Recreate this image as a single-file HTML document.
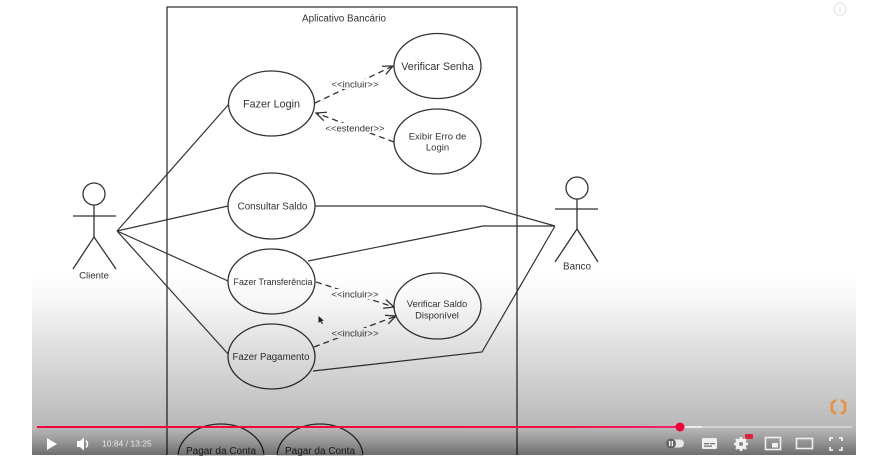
<!DOCTYPE html>
<html><head><meta charset="utf-8"><style>
html,body{margin:0;padding:0;background:#fff;width:880px;height:465px;overflow:hidden;}
svg{display:block;}
text{font-family:"Liberation Sans",Arial,sans-serif;fill:#333;}
</style></head><body>
<svg width="880" height="465" viewBox="0 0 880 465" xmlns="http://www.w3.org/2000/svg">
<defs>
<linearGradient id="ov" x1="0" y1="0" x2="0" y2="1">
<stop offset="0" stop-color="#000" stop-opacity="0"/>
<stop offset="0.15" stop-color="#000" stop-opacity="0.03"/>
<stop offset="0.39" stop-color="#000" stop-opacity="0.12"/>
<stop offset="0.66" stop-color="#000" stop-opacity="0.21"/>
<stop offset="0.85" stop-color="#000" stop-opacity="0.28"/>
<stop offset="0.92" stop-color="#000" stop-opacity="0.40"/>
<stop offset="1" stop-color="#000" stop-opacity="0.57"/>
</linearGradient>
<linearGradient id="pr" x1="0" y1="0" x2="1" y2="0">
<stop offset="0" stop-color="#f0003c"/>
<stop offset="0.8" stop-color="#f0103c"/>
<stop offset="1" stop-color="#f02070"/>
</linearGradient>
<marker id="ah" viewBox="0 0 12 12" refX="11" refY="6" markerWidth="12" markerHeight="12" markerUnits="userSpaceOnUse" orient="auto">
<path d="M1,1.5 L11,6 L1,10.5" fill="none" stroke="#333" stroke-width="1.3"/>
</marker>
</defs>

<!-- system boundary (open at bottom, ends at video edge) -->
<polyline points="167,455 167,7 517,7 517,455" fill="none" stroke="#333" stroke-width="1.3"/>
<text x="344" y="21.5" font-size="9.9" text-anchor="middle">Aplicativo Bancário</text>

<!-- solid association lines -->
<g stroke="#333" stroke-width="1.2" fill="none">
<line x1="117" y1="231" x2="229" y2="104"/>
<line x1="117" y1="231" x2="228" y2="206"/>
<line x1="117" y1="231" x2="228" y2="281"/>
<line x1="117" y1="231" x2="229" y2="355"/>
<polyline points="315,206 484,206 555,226"/>
<polyline points="308,261 483,226 555,226"/>
<polyline points="313,371 482,352 555,226"/>
</g>

<!-- ellipses -->
<g stroke="#333" stroke-width="1.3" fill="#fff">
<ellipse cx="271.5" cy="103.5" rx="43" ry="32.5"/>
<ellipse cx="437.5" cy="66" rx="43.5" ry="32.5"/>
<ellipse cx="437.5" cy="141.5" rx="43.5" ry="32.5"/>
<ellipse cx="271.5" cy="206" rx="43.5" ry="33"/>
<ellipse cx="271.5" cy="281.5" rx="43.5" ry="32.5"/>
<ellipse cx="271.5" cy="356.5" rx="43.5" ry="32.5"/>
<ellipse cx="437.5" cy="306" rx="43.5" ry="33"/>
<path d="M178.08,455 A43,33 0 0,1 263.92,455 Z"/>
<path d="M277.08,455 A43,33 0 0,1 362.92,455 Z"/>
</g>
<rect x="170" y="454.4" width="200" height="1" fill="#fff"/>

<!-- dashed lines -->
<g stroke="#333" stroke-width="1.3" fill="none" stroke-dasharray="6,4">
<line x1="315" y1="103" x2="393" y2="66" marker-end="url(#ah)"/>
<line x1="394" y1="142" x2="316" y2="113" marker-end="url(#ah)"/>
<line x1="316" y1="282" x2="394" y2="307" marker-end="url(#ah)"/>
<line x1="314" y1="347" x2="396" y2="316" marker-end="url(#ah)"/>
</g>
<g fill="#fff">
<rect x="331" y="79" width="48" height="10"/>
<rect x="325" y="123" width="61" height="10"/>
<rect x="331" y="289" width="48" height="10"/>
<rect x="331" y="328" width="48" height="10"/>
</g>
<g font-size="9.5" text-anchor="middle">
<text x="355" y="87.5">&lt;&lt;incluir&gt;&gt;</text>
<text x="355" y="131.5">&lt;&lt;estender&gt;&gt;</text>
<text x="355" y="297.5">&lt;&lt;incluir&gt;&gt;</text>
<text x="355" y="336.5">&lt;&lt;incluir&gt;&gt;</text>
</g>

<!-- use case labels -->
<g text-anchor="middle">
<text x="271.5" y="107.5" font-size="10.8">Fazer Login</text>
<text x="437.5" y="70" font-size="10.7">Verificar Senha</text>
<text x="437.5" y="139.5" font-size="9.5">Exibir Erro de</text>
<text x="437.5" y="150.5" font-size="9.5">Login</text>
<text x="272.5" y="209.5" font-size="9.8">Consultar Saldo</text>
<text x="273" y="285" font-size="8.9">Fazer Transferência</text>
<text x="271" y="360" font-size="9.7">Fazer Pagamento</text>
<text x="437" y="307" font-size="9.4">Verificar Saldo</text>
<text x="437" y="318.5" font-size="9.4">Disponível</text>
<text x="221" y="454" font-size="10">Pagar da Conta</text>
<text x="320" y="454" font-size="10">Pagar da Conta</text>
</g>

<!-- actors -->
<g stroke="#333" stroke-width="1.3" fill="none">
<circle cx="94" cy="194" r="11"/>
<line x1="94" y1="205" x2="94" y2="237"/>
<line x1="73" y1="216" x2="116" y2="216"/>
<polyline points="73,269 94,237 116,269"/>
<circle cx="577" cy="188" r="11"/>
<line x1="577" y1="199" x2="577" y2="229"/>
<line x1="555" y1="209" x2="598" y2="209"/>
<polyline points="555,262 577,229 598,262"/>
</g>
<text x="94" y="278.5" font-size="9.6" text-anchor="middle">Cliente</text>
<text x="577" y="269.5" font-size="9.9" text-anchor="middle">Banco</text>

<!-- cursor -->
<path d="M318.5,316 L318.5,323 L320.3,321.5 L322,324 L323,323.4 L321.6,321 L323.8,320.6 Z" fill="#222"/>

<!-- video overlay gradient -->
<rect x="32" y="272" width="824" height="183" fill="url(#ov)"/>

<!-- info icon -->
<circle cx="840" cy="9" r="6" fill="none" stroke="#ddd" stroke-width="1"/>
<text x="840" y="12.5" font-size="8" text-anchor="middle" style="fill:#ccc">i</text>

<!-- orange logo -->
<g fill="none" stroke="#e8913a" stroke-width="2.6">
<polyline points="836,400 832,403 832,411 836,414"/>
<polyline points="841,400 845,403 845,411 841,414"/>
</g>

<!-- progress bar -->
<rect x="37" y="426" width="815" height="2" fill="#fff" fill-opacity="0.35"/>
<rect x="680" y="426" width="22" height="2" fill="#fff" fill-opacity="0.6"/>
<rect x="37" y="426" width="643" height="2" fill="url(#pr)"/>
<circle cx="680" cy="427" r="4.5" fill="#f00032"/>

<!-- left controls -->
<path d="M47,438 L47,450 L57,444 Z" fill="#fff"/>
<path d="M77,441 L80,441 L84,437.5 L84,450.5 L80,447 L77,447 Z" fill="#fff"/>
<path d="M86,440.5 Q89,444 86,447.5" fill="none" stroke="#fff" stroke-width="1.5"/>
<text x="102" y="446.5" font-size="8.5" style="fill:#e8e8e8">10:84 / 13:25</text>

<!-- right controls -->
<rect x="667" y="439.5" width="17" height="8" rx="4" fill="#e8e8e8"/>
<circle cx="671" cy="443.5" r="5" fill="#666"/>
<rect x="669" y="441" width="1.3" height="5" fill="#fff"/>
<rect x="671.7" y="441" width="1.3" height="5" fill="#fff"/>

<rect x="702" y="438" width="15" height="11" rx="1.5" fill="#f0f0f0"/>
<rect x="704" y="443" width="5" height="1.3" fill="#777"/>
<rect x="710" y="443" width="5" height="1.3" fill="#777"/>
<rect x="704" y="445.5" width="8" height="1.3" fill="#777"/>

<circle cx="741" cy="444" r="5.5" fill="#f0f0f0"/>
<g stroke="#f0f0f0" stroke-width="2.5">
<line x1="741" y1="437" x2="741" y2="451"/>
<line x1="734" y1="444" x2="748" y2="444"/>
<line x1="736" y1="439" x2="746" y2="449"/>
<line x1="746" y1="439" x2="736" y2="449"/>
</g>
<circle cx="741" cy="444" r="2" fill="#888"/>
<rect x="745" y="434" width="8" height="5" rx="1" fill="#e8203c"/>

<rect x="765.5" y="437.5" width="15" height="12" fill="none" stroke="#f0f0f0" stroke-width="1.6"/>
<rect x="772" y="443" width="6" height="4.5" fill="#f0f0f0"/>

<rect x="796.5" y="438.5" width="16" height="10" fill="none" stroke="#f0f0f0" stroke-width="1.6"/>

<g fill="none" stroke="#f0f0f0" stroke-width="1.8">
<polyline points="830,441 830,438 833,438"/>
<polyline points="839,438 842,438 842,441"/>
<polyline points="830,447 830,450 833,450"/>
<polyline points="839,450 842,450 842,447"/>
</g>
</svg>
</body></html>
